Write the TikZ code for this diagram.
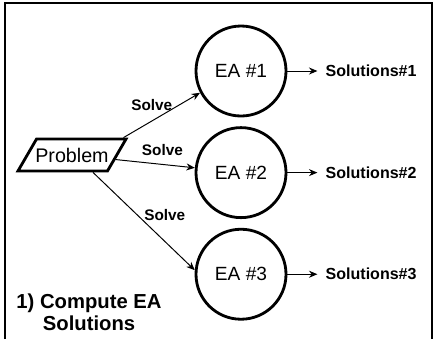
\documentclass[tikz,border=0pt]{standalone}
\usepackage{fontspec}
\setmainfont{Liberation Sans}
\usetikzlibrary{shapes.geometric, arrows.meta, positioning}
\tikzset{
  ea/.style={circle, draw=black, line width=2pt, minimum size=2.25cm,
             inner sep=0pt, font=\fontsize{13.6}{16}\selectfont},
  input/.style={trapezium, trapezium left angle=55, trapezium right angle=125,
                trapezium stretches=true, draw=black, line width=2pt,
                minimum width=2.72cm, minimum height=0.8cm, inner xsep=-0.12cm,
                font=\fontsize{14}{16}\selectfont},
  result/.style={inner sep=0.2cm, font=\fontsize{11.4}{13}\selectfont\bfseries},
  arrow/.style={-{Stealth[length=6pt, width=5pt]}, draw=black, line width=0.7pt},
  edgelabel/.style={font=\fontsize{10.9}{13}\selectfont\bfseries, inner sep=0pt},
  caption/.style={align=center, font=\fontsize{14.4}{15.6}\selectfont\bfseries},
  panel/.style={draw=black, line width=0.8pt},
}
\begin{document}
\begin{tikzpicture}[node distance=0.22cm and 0.75cm]
  % Frame
  \useasboundingbox (0,0) rectangle (10.925,-8.475);
  \draw[panel] (0.125,-8.475) |- (10.8,-0.075) -- (10.8,-8.475);

  % Nodes
  \node[input] (problem) at (1.8,-3.875) {Problem};
  \node[ea] (ea1) at (6.025,-1.775) {EA \#1};
  \node[ea, below=of ea1] (ea2) {EA \#2};
  \node[ea, below=of ea2] (ea3) {EA \#3};
  \node[result, right=of ea1] (sol1) {Solutions\#1};
  \node[result, right=of ea2] (sol2) {Solutions\#2};
  \node[result, right=of ea3] (sol3) {Solutions\#3};
  \node[caption] (step) at (2.225,-7.8) {1) Compute EA\\Solutions};

  % Edges
  \draw[arrow] ([xshift=-1.25mm]problem.top right corner) -- node[edgelabel, pos=0.37, above=0.25cm] {Solve} (ea1.208);
  \draw[arrow] (problem) -- node[edgelabel, pos=0.59, above=0.2cm] {Solve} (ea2);
  \draw[arrow] ([xshift=5.25mm]problem.south) -- node[edgelabel, pos=0.5, anchor=south west] {Solve} (ea3.175);

  \draw[arrow] (ea1) -- (sol1);
  \draw[arrow] (ea2) -- (sol2);
  \draw[arrow] (ea3) -- (sol3);
\end{tikzpicture}
\end{document}
